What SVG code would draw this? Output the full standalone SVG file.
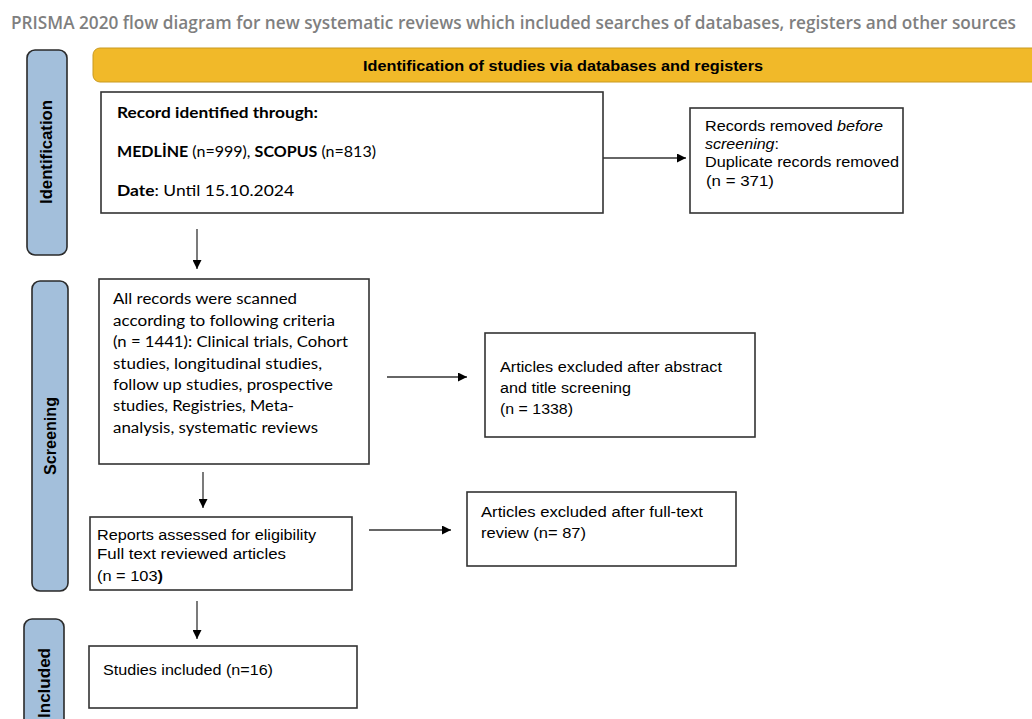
<svg xmlns="http://www.w3.org/2000/svg" width="1032" height="719" viewBox="0 0 1032 719">
<style>
.title{font-family:"Open Sans","Liberation Sans",sans-serif;font-weight:600;font-size:17.5px;fill:#7f7f7f}
.band{font-family:"Liberation Sans",Arial,sans-serif;font-weight:bold;font-size:15px;fill:#000}
.pill{fill:#a3bfdb;stroke:#2a2a2a;stroke-width:1.6}
.plabel{font-family:"Liberation Sans",Arial,sans-serif;font-weight:bold;font-size:16px;fill:#000}
.box{fill:#fff;stroke:#333;stroke-width:1.6}
.cal{font-family:Lato,"Open Sans",sans-serif;font-size:15.5px;fill:#000}
.hel{font-family:"Liberation Sans",Arial,sans-serif;font-size:15.5px;fill:#000}
.conn{stroke:#333;stroke-width:1.3;fill:none;marker-end:url(#ah)}
</style>
<defs>
<marker id="ah" viewBox="0 0 10 10" refX="10" refY="5" markerUnits="userSpaceOnUse" markerWidth="11" markerHeight="9" orient="auto">
<path d="M0,0 L10,5 L0,10 z" fill="#000"/>
</marker>
</defs>
<rect width="1032" height="719" fill="#fff"/>
<text class="title" x="11" y="29" textLength="1005" lengthAdjust="spacingAndGlyphs">PRISMA 2020 flow diagram for new systematic reviews which included searches of databases, registers and other sources</text>

<g id="band">
<rect x="93" y="48" width="950" height="34" rx="7" fill="#f1b929" stroke="#c99a20" stroke-width="1"/>
<text class="band" x="363" y="71" textLength="400" lengthAdjust="spacingAndGlyphs">Identification of studies via databases and registers</text>
</g>

<g id="phase-identification">
<rect class="pill" x="27" y="50" width="40" height="205" rx="8"/>
<text class="plabel" transform="translate(52,152) rotate(-90)" text-anchor="middle" textLength="104" lengthAdjust="spacingAndGlyphs">Identification</text>
</g>
<g id="phase-screening">
<rect class="pill" x="32" y="281" width="36" height="310" rx="8"/>
<text class="plabel" transform="translate(56,436) rotate(-90)" text-anchor="middle" textLength="78" lengthAdjust="spacingAndGlyphs">Screening</text>
</g>
<g id="phase-included">
<rect class="pill" x="24" y="619" width="40" height="110" rx="8"/>
<text class="plabel" transform="translate(50,683) rotate(-90)" text-anchor="middle" textLength="70" lengthAdjust="spacingAndGlyphs">Included</text>
</g>

<g id="records-identified">
<rect class="box" x="101" y="92" width="502" height="121"/>
<text class="cal" x="117" y="118" font-weight="bold" textLength="201" lengthAdjust="spacingAndGlyphs">Record identified through:</text>
<text class="cal" x="117" y="157" textLength="259" lengthAdjust="spacingAndGlyphs"><tspan font-weight="bold">MEDLİNE</tspan> (n=999), <tspan font-weight="bold">SCOPUS</tspan> (n=813)</text>
<text class="cal" x="117" y="196" font-size="17" textLength="177" lengthAdjust="spacingAndGlyphs"><tspan font-weight="bold">Date</tspan>: Until 15.10.2024</text>
</g>

<g id="records-removed">
<rect class="box" x="690" y="108" width="213" height="105"/>
<text class="hel" x="705" y="131" textLength="178" lengthAdjust="spacingAndGlyphs">Records removed <tspan font-style="italic">before</tspan></text>
<text class="hel" x="705" y="149" textLength="74" lengthAdjust="spacingAndGlyphs"><tspan font-style="italic">screening</tspan>:</text>
<text class="hel" x="705" y="167" textLength="194" lengthAdjust="spacingAndGlyphs">Duplicate records removed</text>
<text class="hel" x="706" y="186" textLength="68" lengthAdjust="spacingAndGlyphs"> (n = 371)</text>
</g>

<g id="records-screened">
<rect class="box" x="99" y="279" width="270" height="185"/>
<text class="cal" x="113" y="304" textLength="184" lengthAdjust="spacingAndGlyphs">All records were scanned</text>
<text class="cal" x="113" y="326" textLength="222" lengthAdjust="spacingAndGlyphs">according to following criteria</text>
<text class="cal" x="113" y="347" textLength="235" lengthAdjust="spacingAndGlyphs">(n = 1441): Clinical trials, Cohort</text>
<text class="cal" x="113" y="369" textLength="209" lengthAdjust="spacingAndGlyphs">studies, longitudinal studies,</text>
<text class="cal" x="113" y="390" textLength="220" lengthAdjust="spacingAndGlyphs">follow up studies, prospective</text>
<text class="cal" x="113" y="411" textLength="181" lengthAdjust="spacingAndGlyphs">studies, Registries, Meta-</text>
<text class="cal" x="113" y="433" textLength="205" lengthAdjust="spacingAndGlyphs">analysis, systematic reviews</text>
</g>

<g id="excluded-abstract">
<rect class="box" x="485" y="333" width="270" height="104"/>
<text class="hel" x="500" y="372" textLength="222" lengthAdjust="spacingAndGlyphs">Articles excluded after abstract</text>
<text class="hel" x="500" y="393" textLength="131" lengthAdjust="spacingAndGlyphs">and title screening</text>
<text class="hel" x="500" y="414" textLength="73" lengthAdjust="spacingAndGlyphs">(n = 1338)</text>
</g>

<g id="reports-assessed">
<rect class="box" x="90" y="517" width="262" height="73"/>
<text class="hel" x="97" y="540" textLength="219" lengthAdjust="spacingAndGlyphs">Reports assessed for eligibility</text>
<text class="hel" x="97" y="559" textLength="189" lengthAdjust="spacingAndGlyphs">Full text reviewed articles</text>
<text class="hel" x="97" y="581" textLength="66" lengthAdjust="spacingAndGlyphs">(n = 103<tspan font-weight="bold">)</tspan></text>
</g>

<g id="excluded-fulltext">
<rect class="box" x="467" y="492" width="269" height="74"/>
<text class="hel" x="481" y="517" textLength="222" lengthAdjust="spacingAndGlyphs">Articles excluded after full-text</text>
<text class="hel" x="481" y="538" textLength="105" lengthAdjust="spacingAndGlyphs">review (n= 87)</text>
</g>

<g id="studies-included">
<rect class="box" x="89" y="646" width="268" height="62"/>
<text class="hel" x="103" y="675" textLength="170" lengthAdjust="spacingAndGlyphs">Studies included (n=16)</text>
</g>

<g id="connectors">
<line class="conn" x1="603" y1="158" x2="686" y2="158"/>
<line class="conn" x1="197" y1="229" x2="197" y2="269"/>
<line class="conn" x1="387" y1="377" x2="467" y2="377"/>
<line class="conn" x1="203" y1="472" x2="203" y2="508"/>
<line class="conn" x1="369" y1="530" x2="451" y2="530"/>
<line class="conn" x1="197" y1="601" x2="197" y2="639"/>
</g>
</svg>
